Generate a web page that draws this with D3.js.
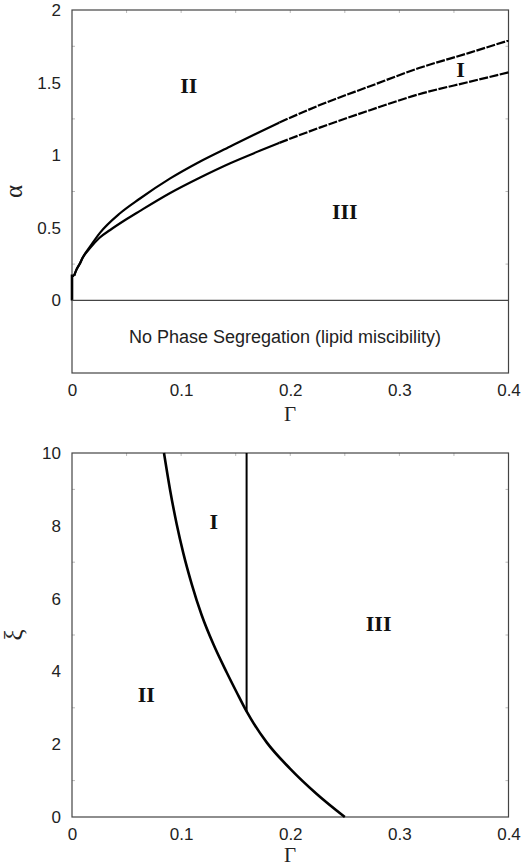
<!DOCTYPE html>
<html lang="en">
<head>
<meta charset="UTF-8">
<title>Phase diagrams</title>
<script src="https://cdn.jsdelivr.net/npm/d3@7"></script>
<style>
body { margin: 0; background: #fff; }
svg { display: block; }
.tick text { font-family: "Liberation Sans", Arial, sans-serif; font-size: 17px; fill: #222; }
.roman { font-family: "Liberation Serif", "Times New Roman", serif; font-weight: bold; font-size: 22px; fill: #111; }
.axlabel { font-family: "Liberation Serif", "Times New Roman", serif; font-size: 21px; fill: #222; }
</style>
</head>
<body>
<script>
// top panel: alpha vs Gamma
const topXTicks = [0, 0.1, 0.2, 0.3, 0.4]
const topYTicks = [0, 0.5, 1, 1.5, 2]
const topStem = [[0,0],[0,0.17],[0.002,0.17]]
const topUpper = [[0.002,0.17],[0.004,0.21],[0.007,0.25],[0.0095,0.29],[0.0165,0.37],
  [0.0256,0.465],[0.044,0.60],[0.062,0.70],[0.09,0.84],[0.117,0.955],[0.145,1.06],[0.172,1.16],
  [0.19,1.225],[0.227,1.345],[0.273,1.475],[0.318,1.60],[0.364,1.705],[0.4,1.79]]
const topLower = [[0.002,0.17],[0.004,0.21],[0.007,0.25],[0.0095,0.29],[0.0165,0.36],
  [0.025,0.43],[0.035,0.485],[0.048,0.55],[0.062,0.615],[0.09,0.74],[0.117,0.845],[0.145,0.945],
  [0.172,1.03],[0.19,1.085],[0.227,1.19],[0.273,1.31],[0.318,1.42],[0.364,1.505],[0.4,1.57]]
const topLabels = [{t:"II", x:0.107, y:1.43}, {t:"I", x:0.356, y:1.54}, {t:"III", x:0.250, y:0.56}]
const dashFrom = 0.19

// bottom panel: xi vs Gamma
const botXTicks = [0, 0.1, 0.2, 0.3, 0.4]
const botYTicks = [0, 2, 4, 6, 8, 10]
const botCurve = [[0.0843,10],[0.0898,9.0],[0.0959,8.05],[0.102,7.25],[0.1097,6.4],[0.1188,5.55],
  [0.1295,4.75],[0.1418,3.97],[0.151,3.42],[0.16,2.9],[0.1784,2.05],[0.1998,1.33],[0.224,0.64],[0.25,0]]
const botVertical = [[0.16,2.9],[0.16,10]]
const botLabels = [{t:"I", x:0.130, y:7.9}, {t:"II", x:0.068, y:3.15}, {t:"III", x:0.281, y:5.1}]

const svg = d3.select("body").append("svg").attr("width", 521).attr("height", 867)

function panel(cfg) {
  const x = d3.scaleLinear().domain([0, 0.4]).range([72, 508.5])
  const y = d3.scaleLinear().domain(cfg.ydom).range([cfg.bottom, cfg.top])
  const g = svg.append("g")

  // faint inner minor ticks
  const minorX = d3.range(0.05, 0.4, 0.05)
  g.selectAll(".mxt").data(minorX).enter().append("line")
    .attr("x1", d => x(d)).attr("x2", d => x(d))
    .attr("y1", cfg.top).attr("y2", cfg.top + 3).attr("stroke", "#bbb")
  g.selectAll(".myl").data(cfg.minorY).enter().append("line")
    .attr("x1", 72).attr("x2", 75)
    .attr("y1", d => y(d)).attr("y2", d => y(d)).attr("stroke", "#bbb")
  g.selectAll(".myr").data(cfg.minorY).enter().append("line")
    .attr("x1", 505.5).attr("x2", 508.5)
    .attr("y1", d => y(d)).attr("y2", d => y(d)).attr("stroke", "#bbb")

  g.append("g").attr("transform", `translate(0,${cfg.bottom})`)
    .call(d3.axisBottom(x).tickValues(cfg.xticks).tickSize(0).tickPadding(11).tickFormat(d3.format("")))
    .call(a => a.select(".domain").remove())
  g.append("g").attr("transform", "translate(72,0)")
    .call(d3.axisLeft(y).tickValues(cfg.yticks).tickSize(0).tickPadding(11).tickFormat(d3.format("")))
    .call(a => a.select(".domain").remove())

  g.append("rect").attr("x", 72).attr("y", cfg.top)
    .attr("width", 436.5).attr("height", cfg.bottom - cfg.top)
    .attr("fill", "none").attr("stroke", "#444").attr("stroke-width", 1.2)

  const line = d3.line().x(d => x(d[0])).y(d => y(d[1]))
  cfg.curves.forEach(c => {
    g.append("path").datum(c.pts).attr("d", line.curve(c.curve || d3.curveLinear))
      .attr("fill", "none").attr("stroke", "#000").attr("stroke-width", c.w || 2.2)
      .attr("stroke-dasharray", c.dash || null)
  })

  g.selectAll(".roman").data(cfg.labels).enter().append("text")
    .attr("class", "roman").attr("text-anchor", "middle")
    .attr("x", d => x(d.x)).attr("y", d => y(d.y)).text(d => d.t)

  g.append("text").attr("class", "axlabel").attr("text-anchor", "middle")
    .attr("x", 290).attr("y", cfg.bottom + cfg.gOff).text("Γ")
  g.append("text").attr("class", "axlabel").attr("text-anchor", "middle")
    .style("font-size", "25px")
    .attr("transform", `translate(22,${(cfg.top + cfg.bottom) / 2}) rotate(-90)`).text(cfg.ylab)
  return {g, x, y}
}

const solidPart = pts => pts.filter(d => d[0] <= dashFrom)
const dashPart = pts => pts.filter(d => d[0] >= dashFrom)

const p1 = panel({
  top: 10, bottom: 373, ydom: [-0.5, 2], xticks: topXTicks, yticks: topYTicks,
  minorY: [0.25, 0.75, 1.25, 1.75],
  curves: [
    {pts: topStem, w: 2.6},
    {pts: solidPart(topUpper), curve: d3.curveMonotoneX},
    {pts: dashPart(topUpper), curve: d3.curveMonotoneX, dash: "9,1.5"},
    {pts: solidPart(topLower), curve: d3.curveMonotoneX},
    {pts: dashPart(topLower), curve: d3.curveMonotoneX, dash: "9,1.5"}
  ],
  labels: topLabels, gOff: 48, ylab: "α"
})
// zero line and miscibility region text
p1.g.append("line").attr("x1", 72).attr("x2", 508.5)
  .attr("y1", p1.y(0)).attr("y2", p1.y(0)).attr("stroke", "#444").attr("stroke-width", 1.2)
p1.g.append("text").attr("x", 285).attr("y", p1.y(-0.25) + 6)
  .attr("text-anchor", "middle")
  .style("font-family", "'Liberation Sans', Arial, sans-serif").style("font-size", "18px").style("fill", "#222")
  .text("No Phase Segregation (lipid miscibility)")

panel({
  top: 453, bottom: 817, ydom: [0, 10], xticks: botXTicks, yticks: botYTicks,
  minorY: [1, 3, 5, 7, 9],
  curves: [
    {pts: botCurve, curve: d3.curveMonotoneX, w: 2.6},
    {pts: botVertical, w: 2}
  ],
  labels: botLabels, gOff: 45, ylab: "ξ"
})
</script>
</body>
</html>
